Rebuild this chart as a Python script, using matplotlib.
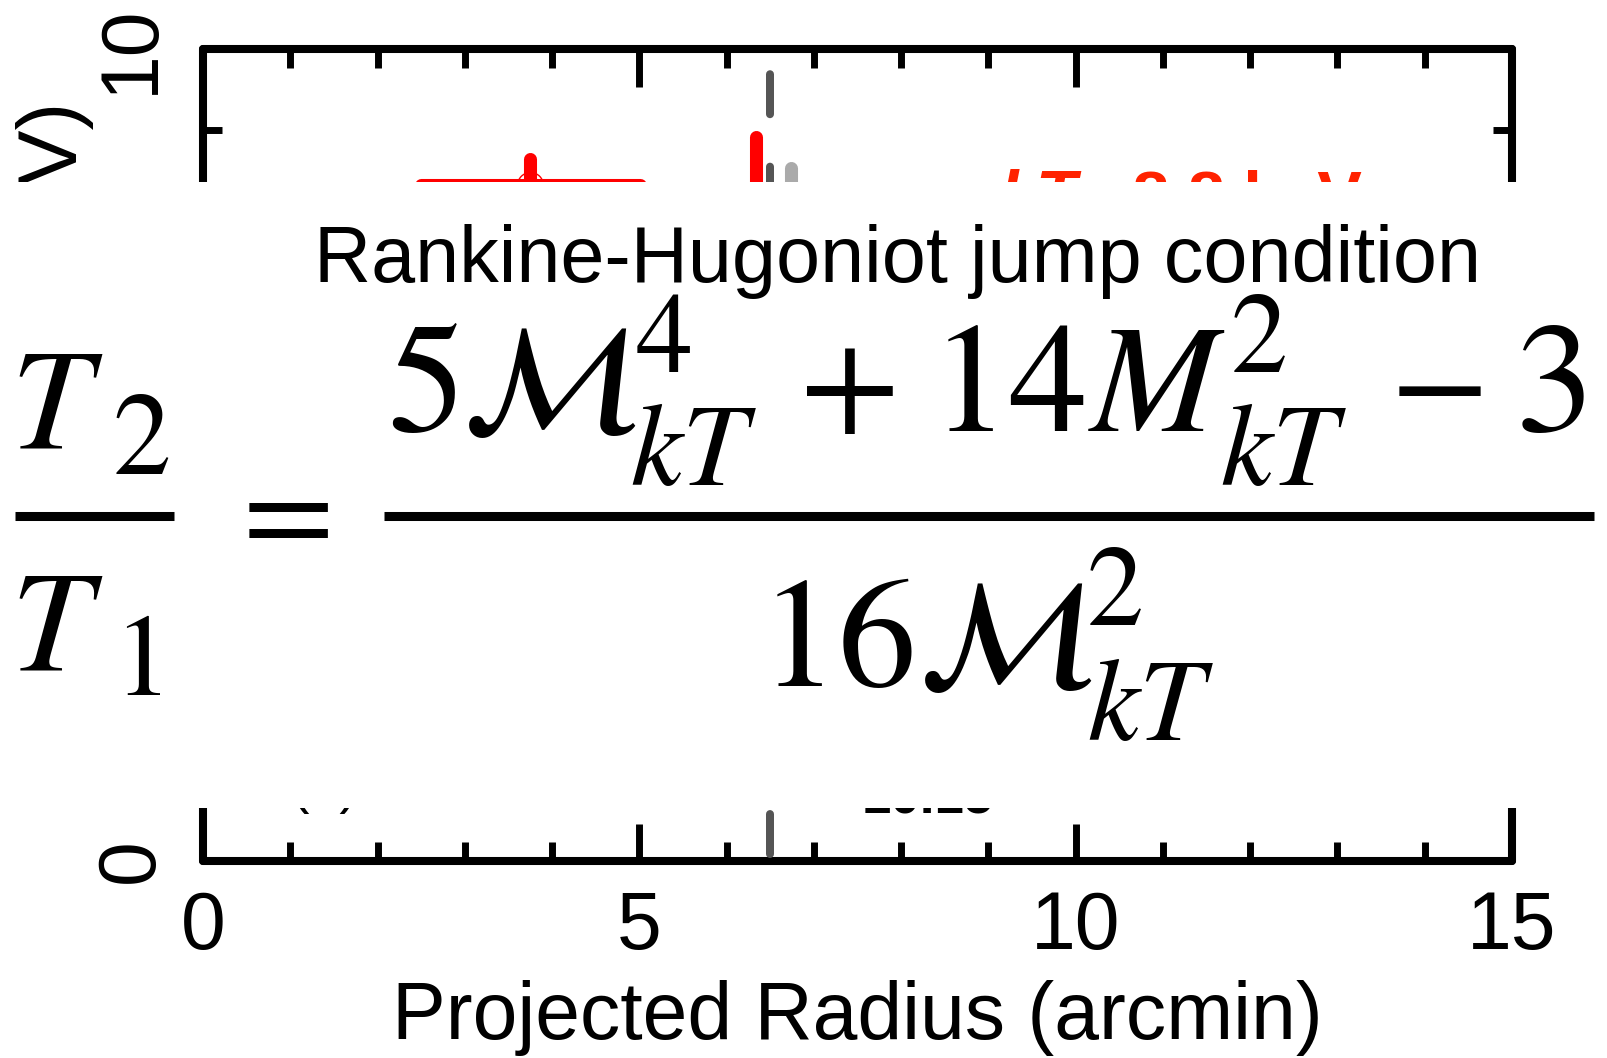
import matplotlib
matplotlib.use("Agg")
import matplotlib.pyplot as plt
from matplotlib.patches import Rectangle
from matplotlib.lines import Line2D
from matplotlib.ticker import MultipleLocator

plt.rcParams['font.family'] = ['Liberation Sans', 'DejaVu Sans']

# ---------------- data ----------------
red_r = [3.75, 6.34]
red_kt = [8.33, 7.50]
red_rerr_lo = [1.25, 0.0]
red_rerr_hi = [1.26, 0.0]
red_kterr_lo = [0.40, 1.42]
red_kterr_hi = [0.32, 1.42]

grey_r = [6.74]
grey_kt = [7.10]
grey_kterr = [1.43]

shock_r = 6.5
y_range = [0, 10]
x_range = [0, 15]
xticks = [0, 5, 10, 15]
yticks = [0, 5, 10]

W, H = 1607, 1058
fig = plt.figure(figsize=(W / 100, H / 100), dpi=100)
ax = fig.add_axes([203 / W, 1 - 861 / H, (1512 - 203) / W, (861 - 49) / H])
ax.set_xlim(*x_range)
ax.set_ylim(*y_range)

# data
eb = ax.errorbar(red_r, red_kt, xerr=[red_rerr_lo, red_rerr_hi],
                 yerr=[red_kterr_lo, red_kterr_hi], fmt='none',
                 ecolor='#ff0000', elinewidth=9.4, capsize=0, zorder=3)
for c in eb[2]:
    c.set_capstyle('round')
ax.plot(red_r[:1], red_kt[:1], 'o', ms=18.7, mfc='none', mec='#ff0000',
        mew=1.0, zorder=4)
eb2 = ax.errorbar(grey_r, grey_kt, yerr=grey_kterr, fmt='none',
                  ecolor='#aaaaaa', elinewidth=9.4, capsize=0, zorder=3)
for c in eb2[2]:
    c.set_capstyle('round')
ax.plot([shock_r, shock_r], y_range, color='#555555', lw=5.76,
        ls=(10.69, (5, 6.56)), dash_capstyle='round', zorder=3)

ax.text(9.13, 7.93, 'kT', color='#ff2200', fontsize=48, fontweight='bold',
        fontstyle='italic')
ax.text(9.99, 7.93, '= 8.8 keV', color='#ff2200', fontsize=48,
        fontweight='bold')
ax.text(1.0, 0.73, '(b)', color='black', fontsize=40)
ax.text(7.55, 0.58, '10.15', color='black', fontsize=38, fontweight='bold')

# axes styling
for s in ax.spines.values():
    s.set_linewidth(5.8)
    s.set_capstyle('round')
ax.set_xticks(xticks)
ax.set_yticks(yticks)
ax.xaxis.set_minor_locator(MultipleLocator(1))
ax.yaxis.set_minor_locator(MultipleLocator(1))
ax.tick_params(which='both', direction='in', top=True, right=True, width=5)
ax.tick_params(which='major', length=27)
ax.tick_params(which='minor', length=14)
ax.tick_params(axis='x', labelsize=58, pad=21)
ax.tick_params(axis='y', labelsize=58, pad=24, labelrotation=90)
for lab in ax.get_yticklabels():
    lab.set_va('center')
ax.set_xlabel('Projected Radius (arcmin)', fontsize=58, labelpad=10)
ax.set_ylabel('Temperature (keV)', fontsize=60)
ax.yaxis.set_label_coords(-0.083, 0.51)

# ---------------- white inset with equation ----------------
fig.add_artist(Rectangle((4 / W, 1 - 808 / H), (W - 4) / W, (808 - 182) / H,
                         transform=fig.transFigure, facecolor='white',
                         edgecolor='none', zorder=5))


def put(x, y, s, size, ha='left', va='baseline', **kw):
    fig.text(x / W, 1 - y / H, s, fontsize=size, ha=ha, va=va, zorder=10,
             math_fontfamily='stix', **kw)


def bar(x0, x1, y, lw):
    fig.add_artist(Line2D([x0 / W, x1 / W], [1 - y / H, 1 - y / H], lw=lw,
                          color='black', transform=fig.transFigure, zorder=10,
                          solid_capstyle='butt'))


fig.text(898 / W, 1 - 282 / H, 'Rankine-Hugoniot jump condition', fontsize=57,
         ha='center', va='baseline', zorder=10)

# left fraction T2/T1
put(10, 449, r'$T$', 104)
put(112, 474, r'$2$', 84)
bar(15, 174, 516, 6.5)
put(10, 670, r'$T$', 104)
put(113, 695, r'$1$', 84)
put(276, 517, r'$=$', 96, ha='center', va='center')
bar(384, 1594, 516, 6.5)

# numerator
put(387, 431, r'$5$', 113)
put(462, 431, r'$\mathcal{M}$', 110)
put(635, 372, r'$4$', 82)
put(630, 485, r'$kT$', 84)
put(846, 390, r'$+$', 105, ha='center', va='center')
put(930, 431, r'$14$', 113)
put(1088, 431, r'$M$', 110)
put(1230, 372, r'$2$', 82)
put(1220, 485, r'$kT$', 84)
put(1435, 388, r'$-$', 105, ha='center', va='center')
put(1515, 431, r'$3$', 113)

# denominator
put(759, 686, r'$16$', 113)
put(918, 686, r'$\mathcal{M}$', 110)
put(1086, 625, r'$2$', 82)
put(1087, 740, r'$kT$', 84)

fig.savefig('out.png', dpi=100)
